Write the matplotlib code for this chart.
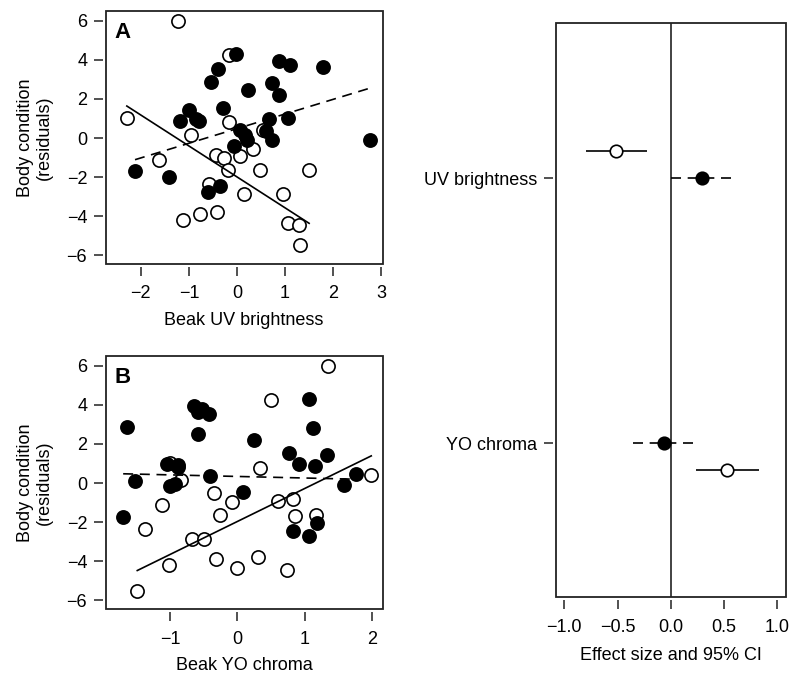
import matplotlib
matplotlib.use("Agg")
import matplotlib.pyplot as plt
from matplotlib.patches import Rectangle
import numpy as np

plt.rcParams['font.family'] = ['Liberation Sans', 'DejaVu Sans']
plt.rcParams['font.size'] = 13

# panel A: beak UV brightness vs body condition
a_open_x = [-1.22, -0.16, -2.29, -1.62, -0.95, -0.16, -0.44, -0.26, 0.07, 0.34, -0.18, 0.48,
            0.55, 1.50, -0.58, 0.15, 0.95, -1.13, -0.77, -0.42, 1.06, 1.30, 1.31]
a_open_y = [6.0, 4.23, 1.02, -1.14, 0.17, 0.82, -0.85, -1.02, -0.94, -0.55, -1.62, -1.65,
            0.43, -1.65, -2.33, -2.85, -2.85, -4.21, -3.89, -3.78, -4.35, -4.47, -5.49]
a_fill_x = [-0.02, -0.40, -0.54, 0.88, 1.11, 1.78, 0.22, 0.73, 0.87, -0.99, -0.30, -1.18, -0.86,
            -0.78, 0.67, 1.06, 0.07, 0.17, 0.21, 0.61, 0.73, -0.06, 2.77, -2.12, -1.41, -0.36, -0.61]
a_fill_y = [4.31, 3.55, 2.86, 3.92, 3.75, 3.61, 2.47, 2.80, 2.22, 1.45, 1.53, 0.89, 0.97,
            0.85, 0.99, 1.02, 0.43, 0.17, -0.09, 0.38, -0.09, -0.43, -0.09, -1.70, -1.99, -2.44, -2.76]

# panel B: beak YO chroma vs body condition
b_open_x = [1.34, 0.50, 0.33, 1.99, -0.84, -1.00, -0.35, -0.08, -1.12, -0.26, 0.61, 0.82,
            0.86, 1.17, -1.38, -0.67, -0.50, -0.32, 0.31, -1.02, 0.00, 0.73, -1.49]
b_open_y = [6.0, 4.25, 0.79, 0.42, 0.16, 1.05, -0.52, -0.98, -1.11, -1.63, -0.94, -0.83,
            -1.66, -1.63, -2.34, -2.85, -2.85, -3.89, -3.79, -4.18, -4.35, -4.43, -5.51]
b_fill_x = [1.06, -0.65, -0.58, -0.53, -0.42, -0.59, 0.25, 1.12, -1.65, 0.77, 1.33, 0.91, 1.15,
            -1.05, -0.89, -0.89, -0.41, -1.53, -1.00, -0.93, 0.08, 1.77, 1.59, -1.70, 1.19, 0.83, 1.07]
b_fill_y = [4.30, 3.94, 3.65, 3.79, 3.53, 2.49, 2.20, 2.80, 2.89, 1.52, 1.44, 0.96, 0.88,
            0.98, 0.94, 0.84, 0.38, 0.13, -0.14, -0.06, -0.43, 0.45, -0.09, -1.71, -2.02, -2.43, -2.73]

# fitted lines (slope, intercept) as drawn
a_open_fit = (-1.584, -1.99)
a_fill_fit = (0.75, 0.48)
b_open_fit = (1.684, -1.96)
b_fill_fit = (-0.08, 0.34)

# right panel: effect sizes with 95% CI
traits = ['UV brightness', 'YO chroma']
open_est = [-0.51, 0.53]
open_lo = [-0.80, 0.24]
open_hi = [-0.22, 0.83]
fill_est = [0.29, -0.06]
fill_lo = [0.00, -0.35]
fill_hi = [0.59, 0.24]

edge = '#222222'
dash = (0, (6, 4))


def r_style(ax):
    # box drawn separately, ticks offset a little outside like R
    for s in ['top', 'right']:
        ax.spines[s].set_visible(False)
    for s in ['left', 'bottom']:
        ax.spines[s].set_position(('outward', 1.8))
        ax.spines[s].set_color('none')
    ax.add_patch(Rectangle((0, 0), 1, 1, transform=ax.transAxes, fill=False,
                           edgecolor=edge, lw=1.3, clip_on=False, zorder=5))
    ax.tick_params(length=6.5, width=1.1, color=edge, pad=5, labelsize=13)
    ax.tick_params(axis='x', pad=7)


def scatter_panel(ax, ox, oy, fx, fy, ofit, ffit, letter):
    ax.plot(ox, oy, 'o', ms=9.5, mfc='white', mec='black', mew=1.2, ls='none', zorder=3)
    ax.plot(fx, fy, 'o', ms=9.5, mfc='black', mec='black', mew=1.2, ls='none', zorder=3)
    xo = np.array([min(ox), max(ox)])
    ax.plot(xo, ofit[0] * xo + ofit[1], color='black', lw=1.2, zorder=4)
    xf = np.array([min(fx), max(fx)])
    ax.plot(xf, ffit[0] * xf + ffit[1], color='black', lw=1.2, ls=dash, zorder=4)
    ax.set_ylim(-6.45, 6.5)
    ax.set_yticks([-6, -4, -2, 0, 2, 4, 6])
    ax.set_ylabel('Body condition\n(residuals)', labelpad=10, linespacing=1.1)
    ax.text(0.032, 0.958, letter, transform=ax.transAxes, fontsize=16,
            fontweight='bold', va='top', ha='left')
    r_style(ax)


fig = plt.figure(figsize=(7.91, 6.73), dpi=100)

ax_a = fig.add_axes([0.1336, 0.6077, 0.3502, 0.3759])
scatter_panel(ax_a, a_open_x, a_open_y, a_fill_x, a_fill_y, a_open_fit, a_fill_fit, 'A')
ax_a.set_xlim(-2.73, 3.03)
ax_a.set_xticks([-2, -1, 0, 1, 2, 3])
ax_a.set_xlabel('Beak UV brightness', labelpad=7)

ax_b = fig.add_axes([0.1336, 0.0947, 0.3502, 0.3764])
scatter_panel(ax_b, b_open_x, b_open_y, b_fill_x, b_fill_y, b_open_fit, b_fill_fit, 'B')
ax_b.set_xlim(-1.96, 2.16)
ax_b.set_xticks([-1, 0, 1, 2])
ax_b.set_xlabel('Beak YO chroma', labelpad=7)

ax_c = fig.add_axes([0.7025, 0.1125, 0.2911, 0.8529])
ypos = np.array([1.0, 0.0])
off = 0.102
ax_c.axvline(0, color=edge, lw=1.2, zorder=1)
ax_c.hlines(ypos + off * np.array([1, -1]), open_lo, open_hi, color='black', lw=1.2, zorder=2)
ax_c.plot(open_est, ypos + off * np.array([1, -1]), 'o', ms=9, mfc='white', mec='black',
          mew=1.2, ls='none', zorder=3)
ax_c.hlines(ypos, fill_lo, fill_hi, color='black', lw=1.2, linestyles=[dash], zorder=2)
ax_c.plot(fill_est, ypos, 'o', ms=9, mfc='black', mec='black', mew=1.2, ls='none', zorder=3)
ax_c.set_xlim(-1.08, 1.08)
ax_c.set_ylim(-0.581, 1.585)
ax_c.set_xticks([-1.0, -0.5, 0.0, 0.5, 1.0])
ax_c.set_xticklabels(['\u22121.0', '\u22120.5', '0.0', '0.5', '1.0'])
ax_c.set_yticks(ypos)
ax_c.set_yticklabels(traits)
ax_c.set_xlabel('Effect size and 95% CI', labelpad=8)
r_style(ax_c)

fig.savefig('out.png', dpi=100)
